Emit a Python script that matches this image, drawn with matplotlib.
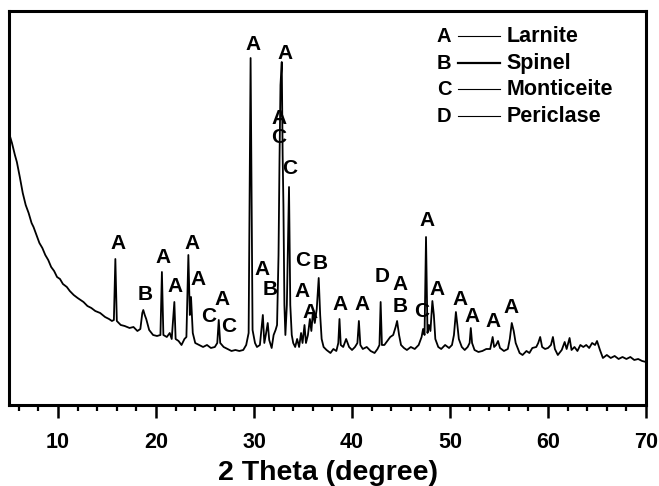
"""XRD pattern of the slag sample with phase labels."""

import matplotlib

matplotlib.use("Agg")
import matplotlib.pyplot as plt

two_theta = [
    5.0, 5.3, 5.6, 5.8, 6.1, 6.4, 6.7, 7.0, 7.3, 7.5, 7.8, 8.1, 8.4, 8.7, 9.0,
    9.3, 9.6, 9.9, 10.2, 10.5, 10.9, 11.2, 11.6, 12.0, 12.3, 12.6, 13.0, 13.4,
    13.8, 14.3, 14.8, 15.2, 15.5, 15.7, 15.85, 16.0, 16.4, 16.8, 17.3, 17.7,
    18.1, 18.4, 18.6, 18.7, 18.85, 19.0, 19.3, 19.7, 20.1, 20.45, 20.6, 20.75,
    21.1, 21.4, 21.6, 21.87, 22.0, 22.3, 22.6, 22.9, 23.1, 23.3, 23.45, 23.57,
    23.75, 24.0, 24.4, 24.8, 25.2, 25.6, 26.0, 26.25, 26.4, 26.55, 26.9, 27.3,
    27.7, 28.1, 28.5, 28.9, 29.2, 29.45, 29.65, 29.85, 30.1, 30.3, 30.6, 30.9,
    31.05, 31.2, 31.4, 31.55, 31.8, 32.0, 32.2, 32.35, 32.5, 32.6, 32.7, 32.83,
    32.92, 33.0, 33.1, 33.2, 33.35, 33.57, 33.7, 33.85, 34.0, 34.2, 34.4, 34.6,
    34.8, 34.95, 35.15, 35.3, 35.5, 35.7, 35.85, 36.0, 36.2, 36.4, 36.6, 36.75,
    36.9, 37.1, 37.4, 37.8, 38.1, 38.4, 38.6, 38.72, 38.85, 39.1, 39.4, 39.7,
    40.0, 40.3, 40.55, 40.7, 40.85, 41.1, 41.5, 41.9, 42.3, 42.6, 42.8, 42.92,
    43.05, 43.3, 43.6, 43.9, 44.2, 44.45, 44.6, 44.8, 45.0, 45.3, 45.6, 46.0,
    46.4, 46.8, 47.1, 47.25, 47.4, 47.55, 47.7, 47.85, 48.0, 48.2, 48.35, 48.5,
    48.8, 49.1, 49.5, 49.9, 50.2, 50.4, 50.6, 50.75, 50.9, 51.2, 51.5, 51.8,
    52.0, 52.12, 52.25, 52.5, 52.9, 53.3, 53.7, 54.1, 54.35, 54.5, 54.7, 54.9,
    55.1, 55.5, 55.9, 56.1, 56.3, 56.5, 56.7, 57.1, 57.4, 57.8, 58.1, 58.4,
    58.8, 59.0, 59.2, 59.4, 59.7, 60.0, 60.3, 60.5, 60.7, 61.0, 61.4, 61.7,
    61.9, 62.2, 62.4, 62.7, 63.0, 63.3, 63.6, 63.9, 64.2, 64.5, 64.8, 65.0,
    65.3, 65.6, 66.0, 66.4, 66.8, 67.2, 67.6, 68.0, 68.4, 68.8, 69.2, 69.6, 70.0,
]
intensity = [
    272, 262, 250, 243, 228, 212, 200, 192, 182, 178, 170, 162, 157, 150, 145,
    138, 134, 128, 126, 121, 118, 114, 110, 107, 105, 103, 99, 97,
    94, 92, 88, 86, 84, 85, 146, 84, 80, 79, 77, 78,
    74, 76, 92, 95, 90, 86, 75, 70, 69, 70, 133, 70,
    68, 72, 66, 103, 66, 64, 60, 66, 68, 150, 90, 108,
    72, 62, 60, 58, 60, 57, 58, 62, 85, 62, 58, 56,
    54, 55, 54, 55, 60, 72, 347, 75, 62, 58, 60, 90,
    62, 70, 82, 65, 57, 70, 75, 80, 150, 245, 320, 343,
    250, 200, 100, 70, 100, 218, 100, 70, 62, 58, 66, 58,
    72, 62, 80, 62, 70, 86, 74, 92, 82, 96, 127, 90,
    66, 58, 55, 52, 56, 54, 62, 86, 60, 58, 66, 58,
    55, 58, 62, 84, 60, 56, 58, 54, 52, 56, 60, 103,
    60, 60, 64, 68, 70, 78, 84, 70, 60, 57, 55, 58,
    56, 60, 68, 76, 70, 168, 72, 80, 74, 104, 90, 66,
    58, 56, 60, 57, 60, 70, 93, 80, 66, 58, 55, 58,
    62, 77, 62, 55, 53, 54, 56, 56, 68, 58, 60, 64,
    57, 54, 56, 66, 82, 74, 62, 52, 50, 54, 52, 57,
    58, 62, 68, 58, 56, 57, 60, 68, 56, 50, 55, 63,
    56, 67, 55, 58, 54, 60, 58, 60, 57, 62, 60, 64,
    55, 47, 50, 47, 49, 46, 48, 46, 48, 45, 46, 44, 43,
]

# phase labels placed above the peaks
label_text = [
    "A", "B", "A", "A", "A", "A", "C", "A", "C", "A", "A", "B", "A", "A", "C",
    "C", "C", "B", "A", "A", "A", "A", "D", "A", "B", "C", "A", "A", "A", "A",
    "A", "A",
]
label_theta = [
    16.15, 18.88, 20.68, 21.94, 23.64, 24.32, 25.34, 26.70, 27.38, 29.87,
    30.79, 31.63, 33.16, 32.55, 32.55, 33.67, 35.0, 36.73, 34.87, 35.71,
    38.78, 40.99, 43.03, 44.9, 44.9, 47.11, 47.65, 48.64, 51.02, 52.21,
    54.36, 56.19,
]
label_height = [
    162, 110, 148, 118, 162, 125, 88, 105, 78, 361,
    136, 115, 352, 287, 268, 237, 145, 142, 113, 92,
    100, 100, 128, 120, 98, 93, 185, 115, 105, 88,
    83, 97,
]

phase_letters = ["A", "B", "C", "D"]
phase_names = ["Larnite", "Spinel", "Monticeite", "Periclase"]
phase_line_widths = [0.8, 1.6, 0.8, 0.8]

plt.rcParams["font.family"] = ["Liberation Sans", "DejaVu Sans"]

fig = plt.figure(figsize=(6.59, 4.86), dpi=100)
ax = fig.add_axes([0.0137, 0.1667, 0.9666, 0.8106])

ax.plot(two_theta, intensity, color="black", linewidth=1.3)

for letter, x, y in zip(label_text, label_theta, label_height):
    ax.text(x, y, letter, ha="center", va="center", fontsize=15, fontweight="bold")

# legend drawn as text + short rules, like the original
legend_rows = [369, 342, 316, 289]
for letter, name, lw, y in zip(phase_letters, phase_names, phase_line_widths, legend_rows):
    ax.text(49.4, y, letter, ha="center", va="center", fontsize=14.5, fontweight="bold")
    ax.plot([50.8, 55.1], [y, y], color="black", linewidth=lw)
    ax.text(55.8, y, name, ha="left", va="center", fontsize=15.5, fontweight="bold")

ax.set_xlim(5, 70)
ax.set_ylim(0, 394)
ax.set_xticks([10, 20, 30, 40, 50, 60, 70])
ax.set_xticks(range(6, 70, 2), minor=True)
ax.set_yticks([])
ax.tick_params(axis="x", which="major", direction="out", length=9, width=1.8,
               labelsize=15.5, pad=10.5)
ax.tick_params(axis="x", which="minor", direction="out", length=4, width=1.6)
for label in ax.get_xticklabels():
    label.set_fontweight("bold")
for spine in ax.spines.values():
    spine.set_linewidth(2.2)

ax.set_xlabel("2 Theta (degree)", fontsize=20.5, fontweight="bold", labelpad=5)

fig.savefig("out.png", dpi=100)
